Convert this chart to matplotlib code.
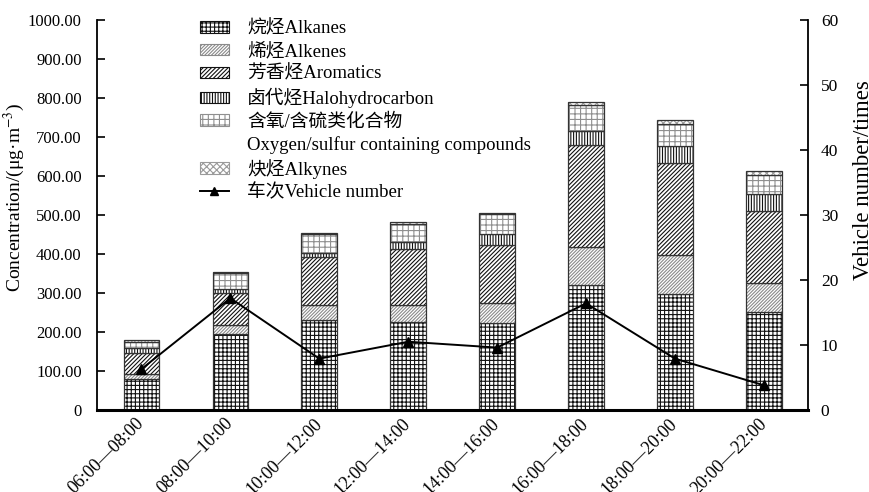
import numpy as np
import matplotlib
matplotlib.use('Agg')
import matplotlib.pyplot as plt
import matplotlib.transforms as mtransforms
from matplotlib.patches import Patch
from matplotlib.lines import Line2D
from matplotlib.ticker import FuncFormatter, MultipleLocator

plt.rcParams['font.family'] = ['Liberation Serif', 'Noto Sans CJK SC']
plt.rcParams['mathtext.fontset'] = 'stix'
plt.rcParams['hatch.linewidth'] = 0.8

# data
periods = ['06:00—08:00', '08:00—10:00', '10:00—12:00', '12:00—14:00',
           '14:00—16:00', '16:00—18:00', '18:00—20:00', '20:00—22:00']
alkanes = [79, 195, 231, 225, 224, 320, 297, 252]
alkenes = [13, 23, 37, 45, 50, 99, 100, 74]
aromatics = [53, 81, 125, 142, 149, 260, 235, 184]
halohydrocarbon = [13, 10, 10, 18, 27, 37, 46, 44]
oxygen_sulfur = [17, 41, 48, 47, 52, 66, 55, 49]
alkynes = [5, 3, 4, 6, 4, 8, 11, 10]
vehicles = [6.3, 17.2, 7.9, 10.5, 9.6, 16.4, 7.9, 3.8]

layers = [
    (alkanes, '烷烃Alkanes', '++++', '#111111'),
    (alkenes, '烯烃Alkenes', '//////////', '#8a8a8a'),
    (aromatics, '芳香烃Aromatics', '////////', '#111111'),
    (halohydrocarbon, '卤代烃Halohydrocarbon', '||||||', '#111111'),
    (oxygen_sulfur, '含氧/含硫类化合物', '+++', '#8f8f8f'),
    (alkynes, '炔烃Alkynes', 'xxxxx', '#9a9a9a'),
]

fig = plt.figure(figsize=(8.69, 4.92), dpi=100)
ax = fig.add_axes([0.1116, 0.1667, 0.8186, 0.7927])
x = np.arange(len(periods))
width = 0.4

bottom = np.zeros(len(periods))
handles = []
for vals, label, hatch, hcol in layers:
    vals = np.array(vals, dtype=float)
    # hatch layer, then outline on top
    ax.bar(x, vals, width, bottom=bottom, color='white', edgecolor=hcol,
           hatch=hatch, linewidth=0)
    ax.bar(x, vals, width, bottom=bottom, fill=False, edgecolor='#333333',
           linewidth=0.9)
    bottom += vals
    handles.append(Patch(facecolor='white', edgecolor=hcol, hatch=hatch,
                         linewidth=0.8, label=label))
    if label.startswith('含氧'):
        # second line of this legend entry, without its own key
        handles.append(Patch(facecolor='none', edgecolor='none',
                             label='Oxygen/sulfur containing compounds'))

ax.set_xlim(-0.5, len(periods) - 0.5)
ax.set_ylim(0, 1000)
ax.yaxis.set_major_locator(MultipleLocator(100))
ax.yaxis.set_major_formatter(FuncFormatter(lambda v, p: '0' if v == 0 else f'{v:.2f}'))
ax.set_xticks(x)
ax.set_xticklabels(periods, rotation=45, ha='right', va='center',
                   rotation_mode='anchor', fontsize=13)
offset = mtransforms.ScaledTranslation(18 / 100, 0, fig.dpi_scale_trans)
for lbl in ax.get_xticklabels():
    lbl.set_transform(lbl.get_transform() + offset)
ax.tick_params(axis='y', direction='in', length=6, width=1.2, labelsize=12, pad=11)
ax.tick_params(axis='x', length=0, pad=8)
ax.set_ylabel('Concentration/(μg·m$^{-3}$)', fontsize=14)
ax.yaxis.set_label_coords(-0.098, 0.546)
ax.spines['top'].set_visible(False)
ax.spines['right'].set_visible(False)
ax.spines['left'].set_linewidth(1.3)
ax.spines['bottom'].set_linewidth(2.2)

ax2 = ax.twinx()
ax2.plot(x, vehicles, color='black', linewidth=1.4, marker='^', markersize=7)
ax2.set_ylim(0, 60)
ax2.yaxis.set_major_locator(MultipleLocator(10))
ax2.tick_params(axis='y', direction='in', length=6, width=1.2, labelsize=12.5, pad=9)
ax2.set_ylabel('Vehicle number/times', fontsize=16.5)
ax2.yaxis.set_label_coords(1.063, 0.59)
for s in ['top', 'left', 'bottom']:
    ax2.spines[s].set_visible(False)
ax2.spines['right'].set_linewidth(1.3)

handles.append(Line2D([0], [0], color='black', linewidth=1.4, marker='^',
                      markersize=6, label='车次Vehicle number'))
fig.legend(handles=handles, loc='upper left', bbox_to_anchor=(0.2145, 0.986),
           frameon=False, fontsize=13.5, handlelength=1.55, handleheight=0.55,
           labelspacing=0.27, handletextpad=1.0, borderpad=0.2)

fig.savefig('out.png', dpi=100)
